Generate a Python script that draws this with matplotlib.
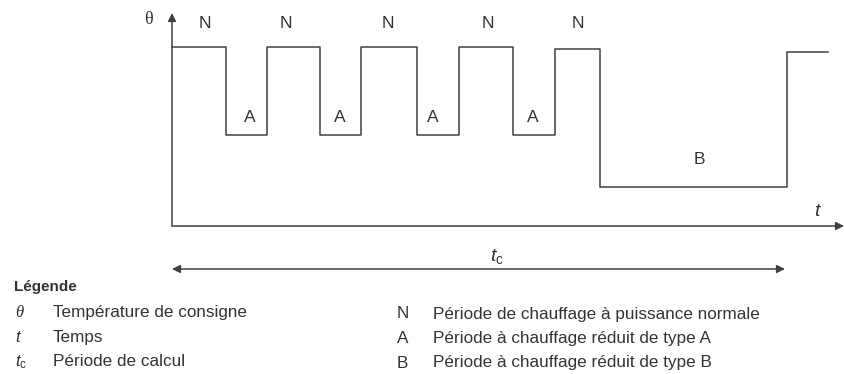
import matplotlib.pyplot as plt

plt.rcParams['font.family'] = ['Liberation Sans', 'DejaVu Sans']
plt.rcParams['mathtext.fontset'] = 'custom'
plt.rcParams['mathtext.rm'] = 'Liberation Sans'
plt.rcParams['mathtext.it'] = 'Liberation Sans:italic'

# Temps de bascule (unites arbitraires) et niveaux de consigne
temps = [0, 5.4, 9.5, 14.8, 18.9, 24.5, 28.7, 34.1, 38.3, 42.8, 61.5, 65.6]
niveaux = [17.9, 9.1, 17.9, 9.1, 17.9, 9.1, 17.9, 9.1, 17.7, 3.9, 17.4]

# Etiquettes des periodes (lettre, t, theta)
periodes = ['N', 'A', 'N', 'A', 'N', 'A', 'N', 'A', 'N', 'B']
pos_t = [3.3, 7.8, 11.4, 16.8, 21.6, 26.1, 31.6, 36.1, 40.6, 52.7]
pos_theta = [20.2, 10.8, 20.2, 10.8, 20.2, 10.8, 20.2, 10.8, 20.3, 6.6]

t_calcul = (0, 61.3)

legende_gauche = [('θ', 'Température de consigne'),
                  (r'$t$', 'Temps'),
                  (r'$t_\mathrm{c}$', 'Période de calcul')]
legende_droite = [('N', 'Période de chauffage à puissance normale'),
                  ('A', 'Période à chauffage réduit de type A'),
                  ('B', 'Période à chauffage réduit de type B')]

W, H = 844, 374
fig = plt.figure(figsize=(W / 100, H / 100), dpi=100)
ax = fig.add_axes([172 / W, (H - 226) / H, (W - 172) / W, (226 - 13) / H])
ax.set_xlim(0, 67.2)
ax.set_ylim(0, 21.3)
ax.axis('off')

trait = '#404040'
texte = '#333333'

# courbe en escalier
xs = temps
ys = niveaux + [niveaux[-1]]
ax.step(xs, ys, where='post', color=trait, lw=1.1, clip_on=False)

# axes fleches
ax.annotate('', xy=(0, 21.3), xytext=(0, 0),
            arrowprops=dict(arrowstyle='-|>', color=trait, lw=1.1,
                            mutation_scale=12, shrinkA=0, shrinkB=0))
ax.annotate('', xy=(67.2, 0), xytext=(0, 0),
            arrowprops=dict(arrowstyle='-|>', color=trait, lw=1.1,
                            mutation_scale=12, shrinkA=0, shrinkB=0))
ax.text(-2.4, 20.6, 'θ', fontsize=13, color=texte, ha='center', va='center',
        fontfamily=['Liberation Serif', 'DejaVu Serif'])
ax.text(64.5, 1.5, 't', fontsize=14, color=texte, ha='center', va='center',
        fontstyle='italic')

for lettre, x, y in zip(periodes, pos_t, pos_theta):
    ax.text(x, y, lettre, fontsize=12.5, color=texte, ha='center', va='center')

# periode de calcul
ax.annotate('', xy=(t_calcul[0], -4.3), xytext=(t_calcul[1], -4.3),
            annotation_clip=False,
            arrowprops=dict(arrowstyle='<|-|>', color=trait, lw=1.1,
                            mutation_scale=12, shrinkA=0, shrinkB=0))
ax.text(32.5, -3.0, r'$t_\mathrm{c}$', fontsize=14, color=texte, ha='center', va='center')

# legende
fig.text(14 / W, 1 - 287 / H, 'Légende', fontsize=11, fontweight='bold',
         color=texte, va='center')
for i, (sym, lib) in enumerate(legende_gauche):
    y = 1 - (313 + 24.5 * i) / H
    if sym == 'θ':
        fig.text(15 / W, y, sym, fontsize=12, color=texte, va='center',
                 fontstyle='italic', fontfamily=['Liberation Serif', 'DejaVu Serif'])
    else:
        fig.text(15 / W, y, sym, fontsize=12, color=texte, va='center')
    fig.text(53 / W, y, lib, fontsize=12.3, color=texte, va='center')
for i, (sym, lib) in enumerate(legende_droite):
    y = 1 - (314 + 24.5 * i) / H
    fig.text(397 / W, y, sym, fontsize=12.3, color=texte, va='center')
    fig.text(433 / W, y, lib, fontsize=12.3, color=texte, va='center')

fig.savefig('out.png', dpi=100)
